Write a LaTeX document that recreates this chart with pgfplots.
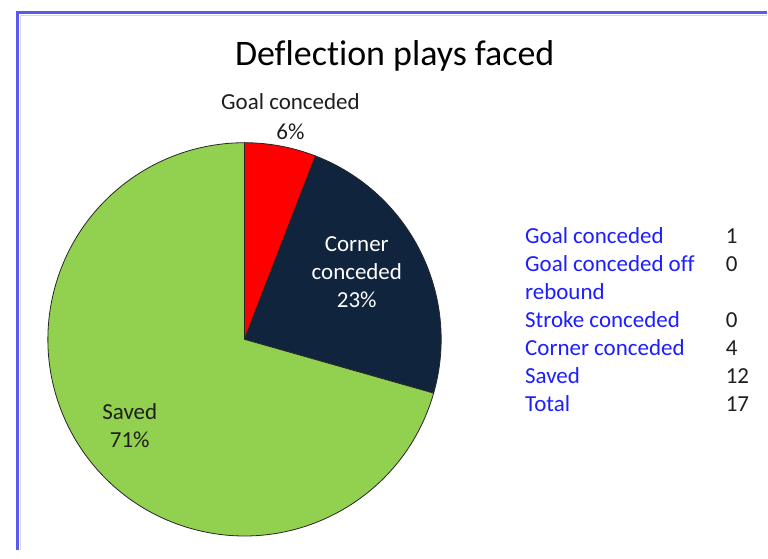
\documentclass[border=0pt]{standalone}
\usepackage{pgfplots}
\usepackage{pgfplotstable}
\pgfplotsset{compat=1.18}
\usepackage{fontspec}
\setmainfont{Carlito}[Ligatures=NoCommon]
\definecolor{goalred}{RGB}{255,0,0}
\definecolor{cornerblue}{RGB}{16,36,62}
\definecolor{savedgreen}{RGB}{146,208,80}
\definecolor{framecol}{RGB}{90,90,240}
\definecolor{legblue}{RGB}{30,30,255}
\definecolor{labtext}{RGB}{30,30,30}
\pgfplotstableread{
name value col
goal 1 goalred
rebound 0 goalred
stroke 0 goalred
corner 4 cornerblue
saved 12 savedgreen
}\piedata
\newcommand\lbl{\fontsize{23bp}{28bp}\selectfont}
\begin{document}
\begin{tikzpicture}
\begin{axis}[x=1bp,y=1bp,xmin=0,xmax=768,ymin=0,ymax=551,hide axis,clip=false]
\fill[white] (axis cs:0,0) rectangle (axis cs:768,551);
\draw[black!15, line width=1.5bp] (axis cs:20.5,0) -- (axis cs:20.5,535.5) -- (axis cs:768,535.5);
\draw[framecol, line width=3bp] (axis cs:18,0) -- (axis cs:18,538) -- (axis cs:768,538);
% pie
\pgfplotstablegetrowsof{\piedata}
\pgfmathtruncatemacro\nrows{\pgfplotsretval-1}
\def\total{0}
\pgfplotsforeachungrouped \i in {0,...,\nrows}{%
  \pgfplotstablegetelem{\i}{value}\of\piedata
  \pgfmathsetmacro\total{\total+\pgfplotsretval}%
}
\def\startang{90}
\pgfplotsforeachungrouped \i in {0,...,\nrows}{%
  \pgfplotstablegetelem{\i}{value}\of\piedata
  \let\val\pgfplotsretval
  \pgfplotstablegetelem{\i}{col}\of\piedata
  \let\col\pgfplotsretval
  \pgfmathsetmacro\endang{\startang-\val/\total*360}%
  \pgfmathparse{\val>0?1:0}%
  \ifnum\pgfmathresult=1
    \edef\cmd{\noexpand\filldraw[fill=\col, draw=black!85, line width=0.8bp] (axis cs:245,211) -- ++(\startang:197bp) arc[start angle=\startang, end angle=\endang, radius=197bp] -- cycle;}%
    \cmd
  \fi
  \let\startang\endang
}
% title
\node[anchor=base, font=\fontsize{36bp}{40bp}\selectfont] at (axis cs:395.5,485) {Deflection plays faced};
% slice labels
\node[anchor=base, font=\lbl, text=labtext] at (axis cs:291,441) {Goal conceded};
\node[anchor=base, font=\lbl, text=labtext] at (axis cs:291,411) {6\%};
\node[anchor=base, font=\lbl, text=white] at (axis cs:357.5,299) {Corner};
\node[anchor=base, font=\lbl, text=white] at (axis cs:357.5,271) {conceded};
\node[anchor=base, font=\lbl, text=white] at (axis cs:357.5,243) {23\%};
\node[anchor=base, font=\lbl, text=labtext] at (axis cs:130,131) {Saved};
\node[anchor=base, font=\lbl, text=labtext] at (axis cs:130,103) {71\%};
% data table
\node[anchor=base west, font=\lbl, text=legblue, inner sep=0pt] at (axis cs:526,307) {Goal conceded};
\node[anchor=base west, font=\lbl, text=legblue, inner sep=0pt] at (axis cs:526,279) {Goal conceded off};
\node[anchor=base west, font=\lbl, text=legblue, inner sep=0pt] at (axis cs:526,251) {rebound};
\node[anchor=base west, font=\lbl, text=legblue, inner sep=0pt] at (axis cs:526,223) {Stroke conceded};
\node[anchor=base west, font=\lbl, text=legblue, inner sep=0pt] at (axis cs:526,195) {Corner conceded};
\node[anchor=base west, font=\lbl, text=legblue, inner sep=0pt] at (axis cs:526,167) {Saved};
\node[anchor=base west, font=\lbl, text=legblue, inner sep=0pt] at (axis cs:526,139) {Total};
\node[anchor=base west, font=\lbl, text=labtext, inner sep=0pt] at (axis cs:727,307) {1};
\node[anchor=base west, font=\lbl, text=labtext, inner sep=0pt] at (axis cs:727,279) {0};
\node[anchor=base west, font=\lbl, text=labtext, inner sep=0pt] at (axis cs:727,223) {0};
\node[anchor=base west, font=\lbl, text=labtext, inner sep=0pt] at (axis cs:727,195) {4};
\node[anchor=base west, font=\lbl, text=labtext, inner sep=0pt] at (axis cs:727,167) {12};
\node[anchor=base west, font=\lbl, text=labtext, inner sep=0pt] at (axis cs:727,139) {17};
\end{axis}
\end{tikzpicture}
\end{document}
